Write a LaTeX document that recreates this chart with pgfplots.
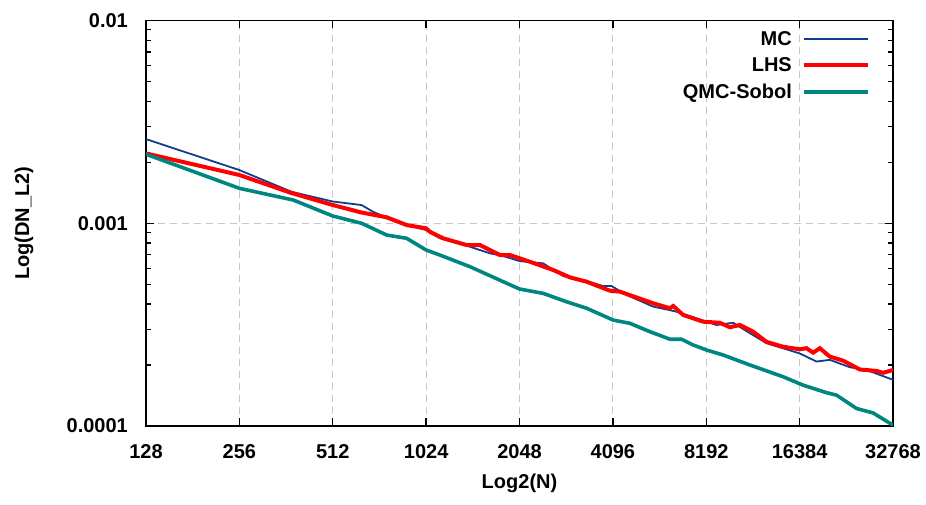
\documentclass[border=0pt]{standalone}
\usepackage{fontspec}
\setmainfont{Liberation Sans}
\usepackage{pgfplots}
\pgfplotsset{compat=1.18}

\definecolor{mcblue}{RGB}{16,62,142}
\definecolor{lhsred}{RGB}{255,0,0}
\definecolor{sobolteal}{RGB}{0,134,128}

\begin{document}
\begin{tikzpicture}
\path[use as bounding box] (-146pt,-78pt) rectangle (780pt,426pt);
\begin{axis}[
    at={(0pt,0pt)}, anchor=south west,
    scale only axis, width=747pt, height=405.5pt,
    xmode=log, ymode=log, log basis x=2,
    xmin=128, xmax=32768, ymin=1e-4, ymax=1e-2,
    xtick={128,256,512,1024,2048,4096,8192,16384,32768},
    xticklabels={128,256,512,1024,2048,4096,8192,16384,32768},
    ytick={1e-4,1e-3,1e-2},
    yticklabels={0.0001,0.001,0.01},
    minor ytick={2e-4,3e-4,4e-4,5e-4,6e-4,7e-4,8e-4,9e-4,2e-3,3e-3,4e-3,5e-3,6e-3,7e-3,8e-3,9e-3},
    grid=major,
    major grid style={gray!45, line width=0.9pt, dash pattern=on 7pt off 5pt},
    tick align=inside,
    major tick length=8pt, minor tick length=5pt,
    axis line style={line width=1.6pt},
    every tick/.style={black, line width=1.3pt},
    tick label style={font=\bfseries\fontsize{20}{24}\selectfont, inner sep=0pt},
    xticklabel style={anchor=north, yshift=-18pt},
    yticklabel style={anchor=east, xshift=-18pt},
    label style={font=\bfseries\fontsize{20}{24}\selectfont, inner sep=0pt},
    xlabel={Log2(N)},
    ylabel={Log(DN\_L2)},
    xlabel style={at={(axis description cs:0.5,-0.1406)}, anchor=center},
    ylabel style={at={(axis description cs:-0.1633,0.5)}, anchor=center, rotate=0},
    legend plot pos=right,
    legend cell align=right,
    legend image code/.code={\draw[#1] (0pt,0pt) -- (64pt,0pt);},
    legend style={draw=none, fill=none, at={(axis description cs:0.9692,0.9794)}, anchor=north east,
        font=\bfseries\fontsize{20}{24}\selectfont, inner sep=0pt, row sep=7pt, column sep=8pt,
        nodes={inner sep=2pt}},
]
\addplot[mcblue, line width=1.8pt] coordinates {
    (128,0.00260) (256,0.00183) (377,0.00143) (512,0.00128) (634,0.00123)
    (690,0.00114) (771,0.00106) (886,0.000980) (1024,0.000926) (1134,0.000843)
    (1284,0.000811) (1417,0.000766) (1644,0.000711) (1810,0.000690) (2048,0.000651)
    (2442,0.000634) (2833,0.000549) (3286,0.000525) (3812,0.000490) (4057,0.000490)
    (4535,0.000443) (5525,0.000388) (6253,0.000373) (6573,0.000366) (8210,0.000327)
    (8841,0.000315) (10002,0.000323) (11322,0.000287) (12816,0.000256) (16400,0.000228)
    (18573,0.000208) (20493,0.000212) (23770,0.000195) (26918,0.000189) (32768,0.000169)
};
\addlegendentry{MC}
\addplot[lhsred, line width=4pt] coordinates {
    (128,0.00221) (256,0.00173) (377,0.00141) (512,0.00123) (634,0.00113)
    (764,0.00107) (886,0.000980) (1024,0.000944) (1053,0.000908) (1162,0.000843)
    (1383,0.000781) (1527,0.000781) (1771,0.000697) (1907,0.000697) (2212,0.000646)
    (2630,0.000588) (2978,0.000541) (3369,0.000515) (4006,0.000465) (4315,0.000460)
    (5525,0.000403) (6253,0.000381) (6409,0.000391) (6902,0.000353) (8006,0.000327)
    (9063,0.000323) (9762,0.000307) (10510,0.000315) (11600,0.000292) (12816,0.000260)
    (14494,0.000246) (16400,0.000239) (17244,0.000242) (18115,0.000230) (19034,0.000242)
    (20493,0.000220) (22630,0.000210) (25620,0.000190) (28990,0.000187) (30450,0.000183)
    (32768,0.000189)
};
\addlegendentry{LHS}
\addplot[sobolteal, line width=3.6pt] coordinates {
    (128,0.00219) (256,0.001487) (382,0.001302) (512,0.001086) (634,0.001000)
    (764,0.000875) (886,0.000843) (1024,0.000738) (1134,0.000697) (1417,0.000611)
    (1815,0.000515) (2048,0.000474) (2442,0.000451) (2905,0.000410) (3369,0.000381)
    (4106,0.000333) (4648,0.000321) (5391,0.000292) (6253,0.000268) (6820,0.000268)
    (7434,0.000251) (8210,0.000237) (9288,0.000224) (11322,0.000200) (14494,0.000175)
    (16820,0.000159) (20010,0.000146) (21545,0.000142) (24990,0.000122) (28270,0.000116)
    (32768,0.000101)
};
\addlegendentry{QMC-Sobol}
\end{axis}
\end{tikzpicture}
\end{document}
